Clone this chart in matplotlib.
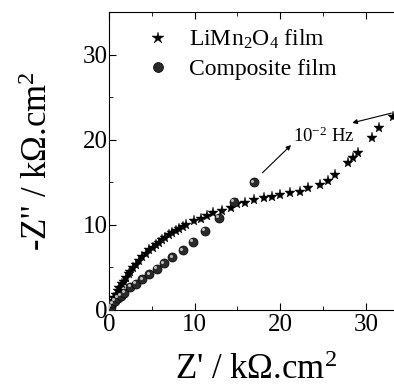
import matplotlib
matplotlib.use("Agg")
import matplotlib.pyplot as plt
import matplotlib.transforms as mtransforms
from matplotlib.ticker import MultipleLocator

plt.rcParams["font.family"] = ["Liberation Serif", "DejaVu Serif"]
plt.rcParams["mathtext.fontset"] = "custom"
plt.rcParams["mathtext.rm"] = "Liberation Serif"
plt.rcParams["mathtext.it"] = "Liberation Serif:italic"

# LiMn2O4 film (stars)
lmo_x = [0.1, 0.2, 0.3, 0.43, 0.6, 0.8, 1.0, 1.2, 1.5, 1.7, 2.0, 2.3, 2.5, 2.8, 3.1,
         3.5, 3.9, 4.3, 4.7, 5.1, 5.5, 5.8, 6.2, 6.6, 7.0, 7.4, 7.8, 8.2, 8.6, 9.0,
         9.9, 10.7, 11.5, 12.2, 13.2, 14.2, 15.0, 15.9, 16.9, 18.1, 19.0, 20.0,
         21.2, 22.3, 23.2, 24.7, 25.6, 26.4, 27.9, 28.5, 29.1, 30.7, 31.6, 33.2]
lmo_y = [0.2, 0.4, 0.7, 1.0, 1.4, 1.8, 2.2, 2.6, 3.0, 3.3, 3.8, 4.2, 4.5, 4.9, 5.3,
         5.8, 6.2, 6.6, 7.0, 7.3, 7.6, 7.9, 8.2, 8.5, 8.8, 9.0, 9.3, 9.5, 9.8, 10.0,
         10.4, 10.7, 11.0, 11.4, 11.6, 12.0, 12.4, 12.6, 12.9, 13.1, 13.3, 13.5,
         13.7, 13.9, 14.3, 14.7, 15.1, 15.8, 17.3, 17.8, 18.4, 20.2, 21.4, 22.7]

# Composite film (spheres)
comp_x = [0.1, 0.2, 0.4, 0.7, 1.0, 1.4, 1.8, 2.5, 3.1, 3.9, 4.7, 5.6, 6.4, 7.4,
          8.6, 9.8, 11.2, 12.8, 14.6, 16.9]
comp_y = [0.2, 0.4, 0.8, 1.1, 1.4, 1.7, 2.0, 2.7, 3.1, 3.6, 4.2, 4.8, 5.5, 6.2,
          7.0, 8.0, 9.3, 10.8, 12.7, 15.0]

fig = plt.figure(figsize=(3.94, 3.90), dpi=100)
ax = fig.add_axes([109 / 394, 80 / 390, 294 / 394, 298 / 390])
ax.set_xlim(0, 294 / 8.56)
ax.set_ylim(0, 35)

ax.plot(lmo_x, lmo_y, ls="none", marker="*", ms=8, color="black",
        markeredgewidth=0.3, label="LiMn$_2$O$_4$ film", zorder=3)
ax.plot(comp_x, comp_y, ls="none", marker="o", ms=6.5, markerfacecolor="#2a2a2a",
        markeredgecolor="black", markeredgewidth=0.5, label="Composite film", zorder=4)
# small highlight to mimic the shaded spheres
hl = mtransforms.offset_copy(ax.transData, fig=fig, x=-1.2, y=1.2, units="points")
ax.plot(comp_x, comp_y, ls="none", marker="o", ms=2.2, color="#bdbdbd",
        markeredgewidth=0, transform=hl, zorder=5)

ax.annotate("", xy=(21.5, 19.6), xytext=(17.7, 15.9),
            arrowprops=dict(arrowstyle="-|>", color="black", lw=0.8, mutation_scale=7))
ax.annotate("", xy=(28.1, 21.9), xytext=(33.3, 23.2),
            arrowprops=dict(arrowstyle="-|>", color="black", lw=0.8, mutation_scale=7))
ax.text(21.5, 20.4, "10$^{-2}$ Hz", fontsize=13.5, va="center", ha="left")

leg = ax.legend(loc="upper left", bbox_to_anchor=(0.065, 1.01), frameon=False,
                fontsize=17, handletextpad=0.9, labelspacing=0.3, borderpad=0.3,
                handlelength=0.9, markerscale=1.1)

ax.xaxis.set_major_locator(MultipleLocator(10))
ax.xaxis.set_minor_locator(MultipleLocator(5))
ax.yaxis.set_major_locator(MultipleLocator(10))
ax.yaxis.set_minor_locator(MultipleLocator(5))
ax.tick_params(which="both", direction="in", top=True, right=False, labelsize=18)
ax.tick_params(which="major", length=5)
ax.tick_params(which="minor", length=3)
ax.tick_params(axis="x", pad=3)
ax.tick_params(axis="y", pad=1)

ax.set_xlabel("Z' / k$\\Omega$.cm$^2$", fontsize=25, labelpad=13)
ax.set_ylabel("-Z'' / k$\\Omega$.cm$^2$", fontsize=25, labelpad=20)

fig.savefig("out.png", dpi=100)
